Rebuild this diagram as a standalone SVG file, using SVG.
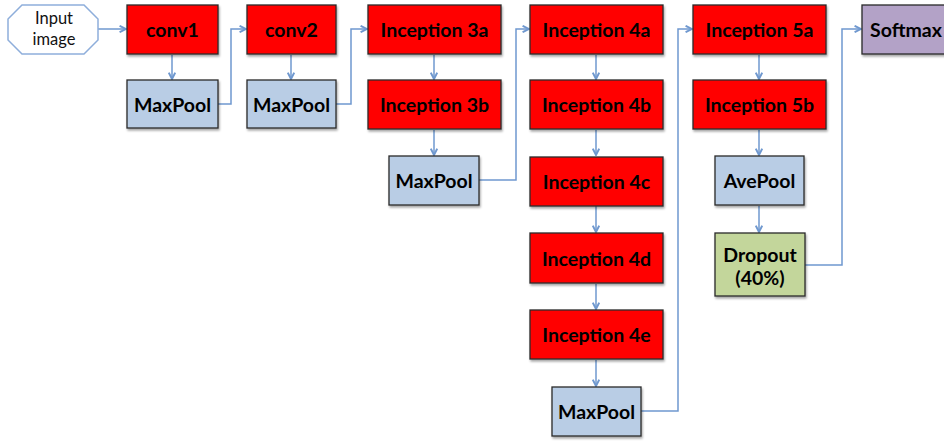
<svg xmlns="http://www.w3.org/2000/svg" width="944" height="441" viewBox="0 0 944 441">
<style>
.box{stroke:#2a2a2a;stroke-width:1.3}
.red{fill:#ff0000}
.blue{fill:#b9cde5}
.green{fill:#c3d69b}
.purple{fill:#b3a2c7}
.t{font-family:Lato,"Liberation Sans",sans-serif;font-weight:bold;font-size:19.5px;fill:#000;text-anchor:middle;dominant-baseline:central}
.ti{font-family:Lato,"Liberation Sans",sans-serif;font-size:16.5px;fill:#111;text-anchor:middle}
.c{fill:none;stroke:#6f98cf;stroke-width:1.5}
</style>
<defs>
<marker id="ah" viewBox="0 0 10 10" refX="9" refY="5" markerWidth="8" markerHeight="8" orient="auto" markerUnits="userSpaceOnUse">
<path d="M1,1 L9,5 L1,9" fill="none" stroke="#6f98cf" stroke-width="2.4"/>
</marker>
<filter id="sh" x="-10%" y="-10%" width="130%" height="140%">
<feDropShadow dx="1" dy="2" stdDeviation="1.2" flood-color="#000" flood-opacity="0.35"/>
</filter>
</defs>
<g id="connectors">
<path class="c" d="M98,29 H126" marker-end="url(#ah)"/>
<path class="c" d="M172,55 V79" marker-end="url(#ah)"/>
<path class="c" d="M218,104 H231 V29 H246" marker-end="url(#ah)"/>
<path class="c" d="M291,55 V79" marker-end="url(#ah)"/>
<path class="c" d="M336,104 H351 V29 H367" marker-end="url(#ah)"/>
<path class="c" d="M434,55 V79" marker-end="url(#ah)"/>
<path class="c" d="M434,130 V155" marker-end="url(#ah)"/>
<path class="c" d="M479,180 H516 V29 H529" marker-end="url(#ah)"/>
<path class="c" d="M596,55 V79" marker-end="url(#ah)"/>
<path class="c" d="M596,130 V155" marker-end="url(#ah)"/>
<path class="c" d="M596,206 V232" marker-end="url(#ah)"/>
<path class="c" d="M596,284 V309" marker-end="url(#ah)"/>
<path class="c" d="M596,360 V386" marker-end="url(#ah)"/>
<path class="c" d="M641,411 H678 V29 H692" marker-end="url(#ah)"/>
<path class="c" d="M759,55 V79" marker-end="url(#ah)"/>
<path class="c" d="M759,130 V155" marker-end="url(#ah)"/>
<path class="c" d="M759,206 V232" marker-end="url(#ah)"/>
<path class="c" d="M805,265 H842 V29 H861" marker-end="url(#ah)"/>
</g>
<g id="input">
<polygon points="22,5 84,5 98,19 98,40 84,54 22,54 8,40 8,19" fill="#fff" stroke="#8eaedb" stroke-width="1.5"/>
<text class="ti" x="54" y="24">Input</text>
<text class="ti" x="54" y="45">image</text>
</g>
<g id="conv1"><rect class="box red" x="127" y="5" width="91" height="49" filter="url(#sh)"/><text class="t" x="172.5" y="29.5">conv1</text></g>
<g id="maxpool1"><rect class="box blue" x="127" y="80" width="91" height="48" filter="url(#sh)"/><text class="t" x="172.5" y="104">MaxPool</text></g>
<g id="conv2"><rect class="box red" x="247" y="5" width="89" height="49" filter="url(#sh)"/><text class="t" x="291.5" y="29.5">conv2</text></g>
<g id="maxpool2"><rect class="box blue" x="247" y="80" width="89" height="48" filter="url(#sh)"/><text class="t" x="291.5" y="104">MaxPool</text></g>
<g id="inception3a"><rect class="box red" x="368" y="5" width="133" height="49" filter="url(#sh)"/><text class="t" x="434.5" y="29.5">Inception 3a</text></g>
<g id="inception3b"><rect class="box red" x="368" y="80" width="133" height="49" filter="url(#sh)"/><text class="t" x="434.5" y="104.5">Inception 3b</text></g>
<g id="maxpool3"><rect class="box blue" x="389" y="156" width="90" height="49" filter="url(#sh)"/><text class="t" x="434" y="180.5">MaxPool</text></g>
<g id="inception4a"><rect class="box red" x="530" y="5" width="133" height="49" filter="url(#sh)"/><text class="t" x="596.5" y="29.5">Inception 4a</text></g>
<g id="inception4b"><rect class="box red" x="530" y="80" width="133" height="49" filter="url(#sh)"/><text class="t" x="596.5" y="104.5">Inception 4b</text></g>
<g id="inception4c"><rect class="box red" x="530" y="157" width="133" height="49" filter="url(#sh)"/><text class="t" x="596.5" y="181.5">Inception 4c</text></g>
<g id="inception4d"><rect class="box red" x="530" y="233" width="133" height="50" filter="url(#sh)"/><text class="t" x="596.5" y="258">Inception 4d</text></g>
<g id="inception4e"><rect class="box red" x="530" y="310" width="133" height="49" filter="url(#sh)"/><text class="t" x="596.5" y="334.5">Inception 4e</text></g>
<g id="maxpool4"><rect class="box blue" x="552" y="387" width="89" height="49" filter="url(#sh)"/><text class="t" x="596.5" y="411.5">MaxPool</text></g>
<g id="inception5a"><rect class="box red" x="693" y="5" width="133" height="49" filter="url(#sh)"/><text class="t" x="759.5" y="29.5">Inception 5a</text></g>
<g id="inception5b"><rect class="box red" x="693" y="80" width="133" height="49" filter="url(#sh)"/><text class="t" x="759.5" y="104.5">Inception 5b</text></g>
<g id="avepool"><rect class="box blue" x="715" y="156" width="89" height="49" filter="url(#sh)"/><text class="t" x="759.5" y="180.5">AvePool</text></g>
<g id="dropout"><rect class="box green" x="715" y="233" width="90" height="63" filter="url(#sh)"/><text class="t" x="760" y="254">Dropout</text><text class="t" x="760" y="277">(40%)</text></g>
<g id="softmax"><rect class="box purple" x="862" y="5" width="92" height="49" filter="url(#sh)"/><text class="t" x="906" y="29.5">Softmax</text></g>
</svg>
